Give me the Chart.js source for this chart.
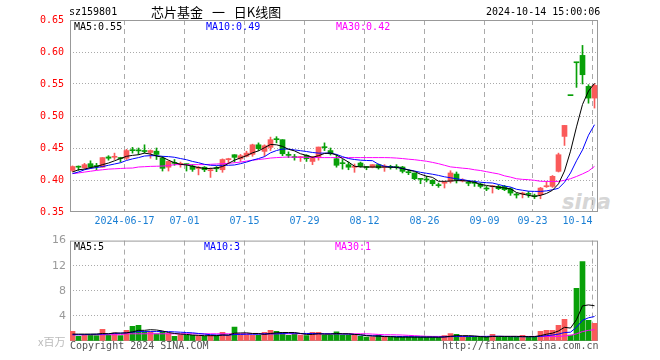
<!DOCTYPE html>
<html>
<head>
<meta charset="utf-8">
<script src="https://cdn.jsdelivr.net/npm/chart.js@4.4.0/dist/chart.umd.min.js"></script>
<style>
  body { margin: 0; background: #fff; width: 660px; height: 360px; position: relative; overflow: hidden; }
  .t { position: absolute; white-space: nowrap; font: 10px "DejaVu Sans Mono", monospace; line-height: 12px; z-index: 3; }
  canvas { position: absolute; left: 0; z-index: 2; }
  #main { top: 0; }
  #vol { top: 230px; }
  #logo { position: absolute; left: 562px; top: 190px; z-index: 1; font: italic bold 21px "DejaVu Sans", sans-serif; color: #d6d6d6; }
</style>
</head>
<body>
<div class="t" style="left:69px;top:6px">sz159801</div>
<div class="t" style="left:151px;top:4px;font:13px 'Noto Sans CJK SC',sans-serif;line-height:16px;word-spacing:6px">芯片基金 一 日K线图</div>
<div class="t" style="left:486px;top:6px">2024-10-14 15:00:06</div>
<div class="t" style="left:74px;top:21px;color:#000">MA5:0.55</div>
<div class="t" style="left:206px;top:21px;color:#0000ff">MA10:0.49</div>
<div class="t" style="left:336px;top:21px;color:#ff00ff">MA30:0.42</div>
<div class="t" style="left:74px;top:241px;color:#000">MA5:5</div>
<div class="t" style="left:204px;top:241px;color:#0000ff">MA10:3</div>
<div class="t" style="left:335px;top:241px;color:#ff00ff">MA30:1</div>
<div class="t" style="left:38px;top:334px;color:#bbb;font:11px 'Noto Sans CJK SC',sans-serif;line-height:14px">x百万</div>
<div class="t" style="left:70px;top:340px;color:#555">Copyright 2024 SINA.COM</div>
<div class="t" style="left:442px;top:340px;color:#555">http://finance.sina.com.cn</div>
<div id="logo">sina</div>
<canvas id="main" width="660" height="230"></canvas>
<canvas id="vol" width="660" height="130"></canvas>
<script>
const dates = [
  '06-03','06-04','06-05','06-06','06-07','06-11','06-12','06-13','06-14','06-17',
  '06-18','06-19','06-20','06-21','06-24','06-25','06-26','06-27','06-28','07-01',
  '07-02','07-03','07-04','07-05','07-08','07-09','07-10','07-11','07-12','07-15',
  '07-16','07-17','07-18','07-19','07-22','07-23','07-24','07-25','07-26','07-29',
  '07-30','07-31','08-01','08-02','08-05','08-06','08-07','08-08','08-09','08-12',
  '08-13','08-14','08-15','08-16','08-19','08-20','08-21','08-22','08-23','08-26',
  '08-27','08-28','08-29','08-30','09-02','09-03','09-04','09-05','09-06','09-09',
  '09-10','09-11','09-12','09-13','09-18','09-19','09-20','09-23','09-24','09-25',
  '09-26','09-27','09-30','10-08','10-09','10-10','10-11','10-14'
];

const open = [
  .415,.4205,.419,.4255,.422,.420,.436,.4355,.4345,.434,
  .4468,.4465,.4455,.443,.445,.4343,.420,.427,.4245,.425,
  .4218,.418,.420,.4145,.4185,.416,.4318,.4395,.433,.437,
  .440,.455,.4447,.451,.464,.463,.439,.436,.435,.4385,
  .429,.4354,.4515,.446,.4333,.4265,.424,.4198,.4265,.4205,
  .420,.424,.4198,.4208,.4205,.4203,.4124,.4109,.4018,.401,
  .3995,.392,.395,.398,.4093,.3985,.3958,.3958,.3937,.3869,
  .3895,.390,.390,.3864,.3775,.3781,.3785,.3749,.377,.3895,
  .390,.4135,.4681,.5322,.584,.5947,.5463,.528
];
const high = [
  .422,.422,.426,.430,.426,.435,.438,.442,.4355,.448,
  .451,.450,.455,.447,.450,.437,.430,.432,.428,.425,
  .424,.4213,.421,.419,.421,.433,.434,.4395,.440,.445,
  .456,.458,.455,.467,.4677,.463,.444,.440,.437,.4395,
  .437,.4515,.458,.450,.4395,.432,.428,.425,.428,.4213,
  .424,.425,.424,.423,.424,.4213,.416,.411,.4018,.4057,
  .4005,.3953,.398,.4145,.4125,.402,.399,.399,.3953,.390,
  .3916,.392,.3916,.388,.3796,.381,.382,.378,.3884,.398,
  .407,.442,.4853,.5322,.584,.6103,.549,.550
];
const low = [
  .413,.415,.418,.418,.416,.420,.431,.432,.428,.432,
  .442,.440,.442,.434,.432,.414,.414,.423,.420,.414,
  .4135,.408,.413,.404,.413,.412,.426,.428,.429,.436,
  .437,.446,.437,.446,.458,.438,.435,.431,.429,.429,
  .424,.431,.446,.439,.420,.417,.416,.412,.420,.416,
  .419,.417,.4135,.417,.417,.411,.4083,.4005,.3942,.397,
  .391,.3885,.3875,.3953,.3953,.397,.391,.390,.3875,.3833,
  .3796,.385,.3833,.376,.3718,.372,.373,.371,.3707,.3884,
  .3884,.4125,.454,.5318,.5447,.550,.520,.5124
];
const close = [
  .421,.420,.424,.420,.421,.435,.434,.4365,.4335,.446,
  .4458,.4455,.4445,.446,.440,.4182,.429,.426,.4255,.424,
  .4166,.420,.416,.4155,.4175,.432,.4328,.4354,.438,.442,
  .455,.449,.4536,.463,.463,.441,.4385,.435,.4358,.4333,
  .436,.4515,.4505,.441,.423,.4255,.420,.4208,.4213,.4195,
  .424,.419,.4218,.4198,.4195,.4135,.4114,.402,.401,.400,
  .3942,.3912,.396,.411,.4005,.3995,.3948,.3948,.390,.3859,
  .3905,.3864,.3849,.3796,.3765,.3791,.3775,.3739,.3874,.3905,
  .4057,.4395,.4853,.5318,.5832,.5645,.528,.5478
];

const ma5 = [
  .4125,.416,.417,.4195,.421,.424,.4265,.430,.4335,.437,
  .4385,.4395,.442,.4405,.4375,.4355,.431,.427,.4245,.4235,
  .4215,.4195,.418,.418,.419,.421,.426,.431,.4345,.438,
  .4425,.4455,.4505,.4555,.455,.4525,.448,.4455,.441,.4385,
  .4355,.438,.4415,.442,.439,.4335,.428,.4215,.4205,.4203,
  .4203,.4203,.4203,.420,.4198,.418,.4155,.4135,.409,.406,
  .4041,.398,.3979,.3985,.399,.399,.398,.3965,.393,.3915,
  .390,.3888,.3875,.3862,.3805,.378,.376,.3745,.376,.379,
  .384,.394,.414,.445,.483,.518,.539,.551
];
const ma10 = [
  .410,.4125,.416,.418,.4195,.421,.423,.425,.427,.4305,
  .433,.435,.4375,.438,.438,.437,.4365,.4355,.4335,.4317,
  .429,.427,.4245,.423,.4228,.423,.423,.4235,.4255,.428,
  .431,.4335,.4365,.4425,.446,.4484,.4484,.447,.4458,.4445,
  .443,.442,.442,.442,.440,.4365,.4335,.432,.431,.4305,
  .4302,.4245,.4215,.4205,.4198,.418,.416,.414,.412,.4105,
  .409,.4072,.405,.4035,.4018,.4005,.399,.3978,.3965,.3958,
  .3953,.393,.3905,.389,.3855,.384,.3825,.3822,.3822,.383,
  .3848,.387,.3965,.411,.430,.447,.470,.4864
];
const ma30 = [
  .410,.411,.4124,.4137,.415,.416,.417,.4175,.418,.4185,
  .4187,.4203,.4208,.4213,.4215,.4218,.4225,.424,.424,.424,
  .424,.424,.424,.4245,.425,.4255,.426,.427,.428,.4295,
  .431,.432,.433,.4343,.435,.4355,.4359,.4355,.4355,.4355,
  .4352,.435,.435,.435,.435,.435,.435,.435,.435,.435,
  .435,.435,.435,.4348,.4343,.4335,.4325,.4317,.4305,.4293,
  .4275,.4255,.423,.4205,.4195,.4185,.4177,.416,.4148,.413,
  .4112,.4095,.4065,.4045,.402,.401,.4005,.3995,.398,.3978,
  .3978,.3978,.3995,.402,.4055,.4095,.414,.4213
];

// volume in millions
const volume = [
  1.53,.73,1.05,.9,.85,1.85,.9,1.25,.85,1.7,
  2.33,2.5,1.45,1.45,1.15,1.45,1.2,.73,1.0,.9,
  .9,.85,.73,.9,.85,1.4,.9,2.23,1.0,1.0,
  .9,.9,1.4,1.7,1.55,1.35,.9,1.2,.9,.85,
  1.4,1.4,.95,.95,1.45,.95,.95,.95,.73,.63,
  .63,.95,.63,.63,.63,.63,.63,.63,.63,.63,
  .63,.53,.85,1.2,1.05,.63,.63,.63,.63,.63,
  1.05,.75,.63,.63,.63,.9,.63,.63,1.53,1.7,
  1.7,2.5,3.45,.95,8.4,12.67,3.3,2.8
];
const volMa5 = [
  1.1,1.1,1.1,1.1,1.1,1.2,1.15,1.3,1.25,1.3,
  1.45,1.7,1.7,1.8,1.75,1.6,1.35,1.2,1.1,1.05,
  .95,.9,.85,.85,.85,.95,.95,1.25,1.28,1.3,
  1.2,1.2,1.05,1.2,1.3,1.35,1.35,1.35,1.2,1.05,
  1.05,1.15,1.1,1.1,1.2,1.15,1.15,1.05,1.0,.85,
  .78,.78,.7,.7,.62,.62,.62,.62,.62,.62,
  .62,.6,.65,.75,.85,.85,.85,.8,.7,.63,
  .72,.74,.74,.74,.74,.7,.7,.7,.86,1.08,
  1.25,1.6,2.18,2.06,3.4,5.6,5.75,5.62
];
const volMa10 = [
  1.0,1.0,1.02,1.05,1.08,1.1,1.15,1.2,1.25,1.3,
  1.4,1.5,1.5,1.5,1.5,1.5,1.5,1.45,1.4,1.35,
  1.3,1.2,1.1,1.0,.95,.95,.92,1.05,1.05,1.08,
  1.08,1.08,1.15,1.15,1.15,1.2,1.25,1.25,1.2,1.2,
  1.2,1.18,1.15,1.15,1.15,1.12,1.1,1.05,.95,.9,
  .85,.8,.75,.73,.73,.7,.7,.68,.65,.63,
  .63,.62,.65,.7,.73,.73,.73,.73,.73,.73,
  .75,.75,.72,.7,.68,.68,.68,.68,.75,.85,
  .95,1.1,1.35,1.4,2.2,3.3,3.7,3.9
];
const volMa30 = [
  1.0,1.0,1.0,1.0,1.0,1.0,1.0,1.0,1.0,1.15,
  1.15,1.15,1.15,1.15,1.15,1.15,1.15,1.15,1.15,1.15,
  1.15,1.15,1.15,1.15,1.15,1.15,1.15,1.15,1.15,1.15,
  1.15,1.15,1.15,1.15,1.15,1.15,1.15,1.15,1.15,1.15,
  1.15,1.15,1.15,1.15,1.15,1.15,1.15,1.15,1.15,1.15,
  1.1,1.05,1.0,1.0,.98,.95,.9,.85,.8,.75,
  .73,.73,.73,.73,.73,.73,.73,.73,.73,.73,
  .73,.73,.73,.73,.73,.73,.73,.73,.73,.73,
  .73,.73,.8,.9,1.15,1.5,1.7,1.8
];

const axisTickDates = ['06-17','07-01','07-15','07-29','08-12','08-26','09-09','09-23','10-14'];
const axisTickLabels = ['2024-06-17','07-01','07-15','07-29','08-12','08-26','09-09','09-23','10-14'];
const priceTicks = [0.35, 0.40, 0.45, 0.50, 0.55, 0.60, 0.65];
const volTicks = [0, 4, 8, 12, 16];

const UP = '#fa5a5a', DOWN = '#08a008';
const candleColor = close.map((c, i) => c >= open[i] ? UP : DOWN);
const pts = arr => arr.map((v, i) => ({x: i, y: v}));

// x position: candle i centred at 72.5 + 6i px, plot from 70 to 598
const X_MIN = -5 / 12, X_MAX = X_MIN + 88;

function xScale(showLabels) {
  return {
    type: 'linear',
    min: X_MIN,
    max: X_MAX,
    offset: false,
    afterBuildTicks: s => {
      s.ticks = [{value: X_MIN}].concat(axisTickDates.map(d => ({value: dates.indexOf(d) - 1 / 3})));
    },
    afterFit: s => { s.height = showLabels ? 18 : 19; },
    ticks: {
      display: showLabels,
      autoSkip: false,
      maxRotation: 0,
      align: 'inner',
      padding: 3,
      color: '#1a7fd4',
      font: {family: 'DejaVu Sans Mono', size: 10},
      callback: (v, i) => i === 0 ? '' : axisTickLabels[i - 1]
    },
    grid: {
      offset: false,
      drawTicks: false,
      color: c => c.index === 0 ? 'rgba(0,0,0,0)' : '#aaa'
    },
    border: {display: false, dash: [5, 4]}
  };
}

const framePlugin = {
  id: 'frame',
  beforeDatasetsDraw(chart) {
    const {ctx, chartArea: a} = chart;
    ctx.save();
    ctx.strokeStyle = '#999';
    ctx.lineWidth = 1;
    ctx.strokeRect(a.left + 0.5, a.top + 0.5, a.right - a.left - 1, a.bottom - a.top - 1);
    ctx.restore();
  }
};

const lineSet = (data, color) => ({
  type: 'line', data: pts(data), borderColor: color, borderWidth: 1,
  pointRadius: 0, tension: 0, order: 0
});

Chart.defaults.animation = false;
Chart.defaults.font.family = 'DejaVu Sans Mono';

new Chart(document.getElementById('main'), {
  type: 'bar',
  data: {
    datasets: [
      {
        data: dates.map((d, i) => ({x: i, y: [low[i], high[i]]})),
        backgroundColor: candleColor, barThickness: 1, grouped: false, order: 2
      },
      {
        data: dates.map((d, i) => ({x: i, y: [open[i], close[i]]})),
        backgroundColor: candleColor, barThickness: 5, minBarLength: 1, grouped: false, order: 1
      },
      lineSet(ma5, '#000'),
      lineSet(ma10, '#0000ff'),
      lineSet(ma30, '#ff00ff')
    ]
  },
  options: {
    responsive: false,
    events: [],
    layout: {padding: {left: 0, top: 20, right: 62, bottom: 0}},
    plugins: {legend: {display: false}, tooltip: {enabled: false}},
    scales: {
      x: xScale(true),
      y: {
        type: 'linear',
        min: 0.35,
        max: 0.65,
        afterBuildTicks: s => { s.ticks = priceTicks.map(v => ({value: v})); },
        afterFit: s => { s.width = 70; },
        ticks: {
          padding: 6,
          color: '#ff0000',
          font: {family: 'DejaVu Sans Mono', size: 10},
          callback: v => v.toFixed(2)
        },
        grid: {
          drawTicks: false,
          color: c => (c.index === 0 || c.index === priceTicks.length - 1) ? 'rgba(0,0,0,0)' : '#aaa'
        },
        border: {display: false, dash: [1, 2]}
      }
    }
  },
  plugins: [framePlugin]
});

new Chart(document.getElementById('vol'), {
  type: 'bar',
  data: {
    datasets: [
      {
        data: pts(volume), backgroundColor: candleColor, barThickness: 5, grouped: false, order: 1
      },
      lineSet(volMa5, '#000'),
      lineSet(volMa10, '#0000ff'),
      lineSet(volMa30, '#ff00ff')
    ]
  },
  options: {
    responsive: false,
    events: [],
    layout: {padding: {left: 0, top: 10, right: 62, bottom: 0}},
    plugins: {legend: {display: false}, tooltip: {enabled: false}},
    scales: {
      x: xScale(false),
      y: {
        type: 'linear',
        min: 0,
        max: 16,
        afterBuildTicks: s => { s.ticks = volTicks.map(v => ({value: v})); },
        afterFit: s => { s.width = 70; },
        ticks: {
          padding: 4,
          color: '#999',
          font: {family: 'DejaVu Sans', size: 11},
          callback: v => v === 0 ? '' : String(v)
        },
        grid: {
          drawTicks: false,
          color: c => (c.index === 0 || c.index === volTicks.length - 1) ? 'rgba(0,0,0,0)' : '#aaa'
        },
        border: {display: false, dash: [1, 2]}
      }
    }
  },
  plugins: [framePlugin]
});
</script>
</body>
</html>
